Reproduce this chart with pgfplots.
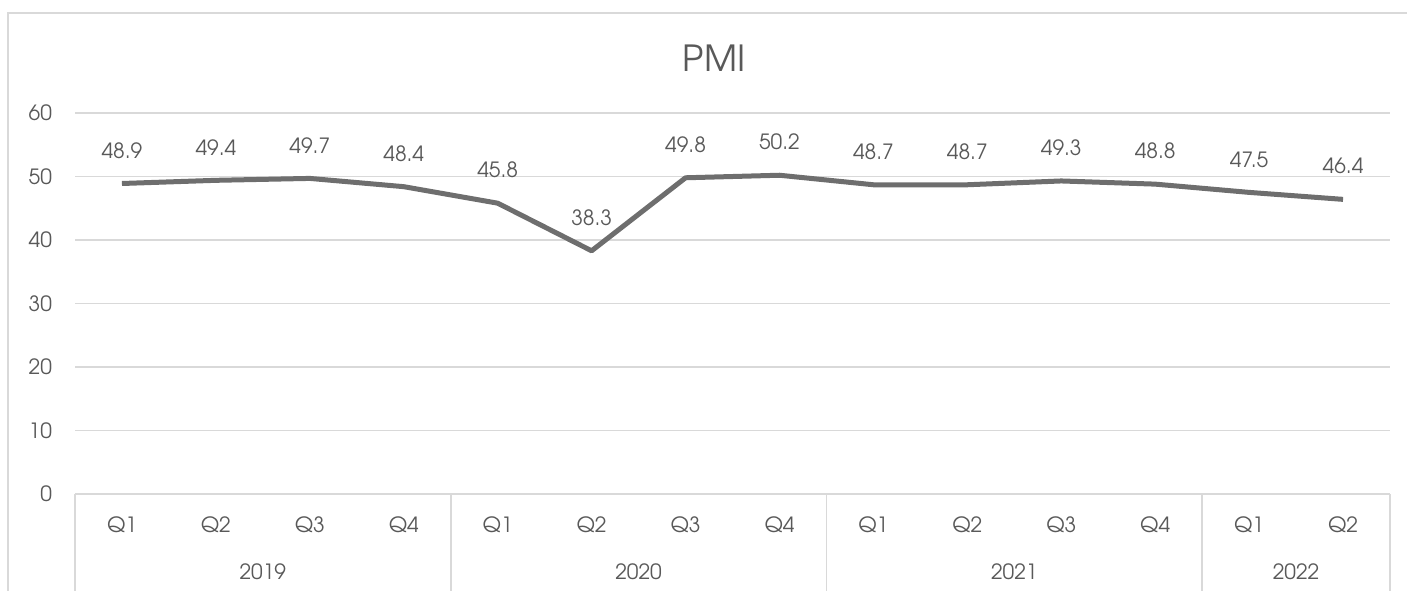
\documentclass[border=0pt]{standalone}
\usepackage{pgfplots}
\pgfplotsset{compat=1.18}
\usepackage{fontspec}
\setmainfont{TeX Gyre Adventor}
\definecolor{txt}{HTML}{595959}
\definecolor{gridc}{HTML}{D9D9D9}
\definecolor{ln}{HTML}{6E6E6E}
\begin{document}
\begin{tikzpicture}
\useasboundingbox (0,0) rectangle (703.5pt,295pt);
\draw[gridc, line width=1pt] (4pt,-5pt) -- (4pt,288.5pt) -- (710pt,288.5pt);
\node[text=txt, font=\fontsize{18}{20}\selectfont, anchor=base] at (357pt,259pt) {PMI};
\begin{axis}[
  at={(37.5pt,48pt)}, anchor=south west, scale only axis,
  width=657.5pt, height=190.5pt,
  xmin=-0.5, xmax=13.5, ymin=0, ymax=60,
  ytick={0,10,...,60},
  xtick={0,...,13},
  xticklabels={Q1,Q2,Q3,Q4,Q1,Q2,Q3,Q4,Q1,Q2,Q3,Q4,Q1,Q2},
  axis line style={draw=none},
  major tick length=0pt,
  ymajorgrids, grid style={gridc, line width=0.9pt},
  clip=false,
  /pgf/number format/assume math mode=true,
  tick label style={font=\fontsize{10.5}{12}\selectfont, text=txt},
  xticklabel style={anchor=center, yshift=-15.5pt},
  yticklabel style={anchor=east, xshift=-8pt},
]
\addplot[ln, line width=2.5pt, line join=round,
  nodes near coords,
  every node near coord/.append style={anchor=center, yshift=16.5pt, text=txt, font=\fontsize{10.5}{12}\selectfont},
  /pgf/number format/.cd, fixed, precision=1]
  coordinates {(0,48.9) (1,49.4) (2,49.7) (3,48.4) (4,45.8) (5,38.3) (6,49.8) (7,50.2) (8,48.7) (9,48.7) (10,49.3) (11,48.8) (12,47.5) (13,46.4)};
\draw[gridc, line width=0.9pt] (axis cs:-0.5,0) -- (axis cs:13.5,0);
\foreach \x in {-0.5,3.5,7.5,11.5,13.5} {
  \edef\tmp{\noexpand\draw[gridc, line width=0.9pt] (axis cs:\x,0) -- ++(0pt,-52pt);}\tmp
}
\foreach \x/\y in {1.5/2019,5.5/2020,9.5/2021,12.5/2022} {
  \edef\tmp{\noexpand\node[text=txt, font=\noexpand\fontsize{10.5}{12}\noexpand\selectfont, anchor=center] at (axis cs:\x,0) [yshift=-39pt] {\y};}\tmp
}
\end{axis}
\end{tikzpicture}
\end{document}
